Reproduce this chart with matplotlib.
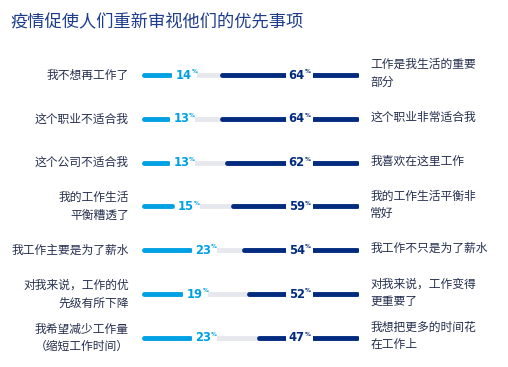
import matplotlib.pyplot as plt

plt.rcParams['font.family'] = ['Noto Sans CJK SC', 'DejaVu Sans']

title = "疫情促使人们重新审视他们的优先事项"
left_labels = ["我不想再工作了", "这个职业不适合我", "这个公司不适合我", "我的工作生活\n平衡糟透了",
               "我工作主要是为了薪水", "对我来说，工作的优\n先级有所下降", "我希望减少工作量\n（缩短工作时间）"]
right_labels = ["工作是我生活的重要\n部分", "这个职业非常适合我", "我喜欢在这里工作", "我的工作生活平衡非\n常好",
                "我工作不只是为了薪水", "对我来说，工作变得\n更重要了", "我想把更多的时间花\n在工作上"]
left_vals = [14, 13, 13, 15, 23, 19, 23]
right_vals = [64, 64, 62, 59, 54, 52, 47]

light = "#00a1e4"
navy = "#002b7f"
track = "#e6e8ed"
text_col = "#26304f"

fig = plt.figure(figsize=(5.08, 3.67), dpi=100)
fig.text(10 / 508, 1 - 22 / 367, title, fontsize=12.4, color="#1d3c8c", va="center", ha="left")

ax = fig.add_axes([142 / 508, 1 - 359.9 / 367, 217 / 508, 306.8 / 367])
ax.set_xlim(0, 100)
ax.set_ylim(6.5, -0.5)
ax.axis("off")

lw = 3.5
cap = 1.08  # half the line width, in percent units
for i in range(len(left_vals)):
    lv, rv = left_vals[i], right_vals[i]
    ax.plot([cap, 100 - cap], [i, i], color=track, lw=lw, solid_capstyle="round", zorder=1)
    ax.plot([cap, lv - cap], [i, i], color=light, lw=lw, solid_capstyle="round", zorder=2)
    ax.plot([100 - rv + cap, 100 - cap], [i, i], color=navy, lw=lw, solid_capstyle="round", zorder=2)
    # white gaps behind the value labels
    ax.plot([lv, lv + 11.5], [i, i], color="white", lw=lw + 2, solid_capstyle="butt", zorder=3)
    ax.plot([66.4, 78.8], [i, i], color="white", lw=lw + 2, solid_capstyle="butt", zorder=3)

    t1 = ax.text(lv + 1.4, i, str(lv), color=light, fontsize=8.3, fontweight="bold",
                 family="DejaVu Sans", va="center", ha="left", zorder=4)
    ax.annotate("%", xy=(1, 0.95), xycoords=t1, fontsize=4.2, fontweight="bold", color=light,
                family="DejaVu Sans", va="top", ha="left", zorder=4)
    t2 = ax.text(67.6, i, str(rv), color=navy, fontsize=8.3, fontweight="bold",
                 family="DejaVu Sans", va="center", ha="left", zorder=4)
    ax.annotate("%", xy=(1, 0.95), xycoords=t2, fontsize=4.2, fontweight="bold", color=navy,
                family="DejaVu Sans", va="top", ha="left", zorder=4)

    ax.text(-6.0, i, left_labels[i], fontsize=8.5, color=text_col, ha="right", va="center",
            multialignment="right", linespacing=1.45)
    ax.text(105.1, i - 0.04, right_labels[i], fontsize=8.5, color=text_col, ha="left", va="center",
            multialignment="left", linespacing=1.45)

fig.savefig("out.png", dpi=100)
